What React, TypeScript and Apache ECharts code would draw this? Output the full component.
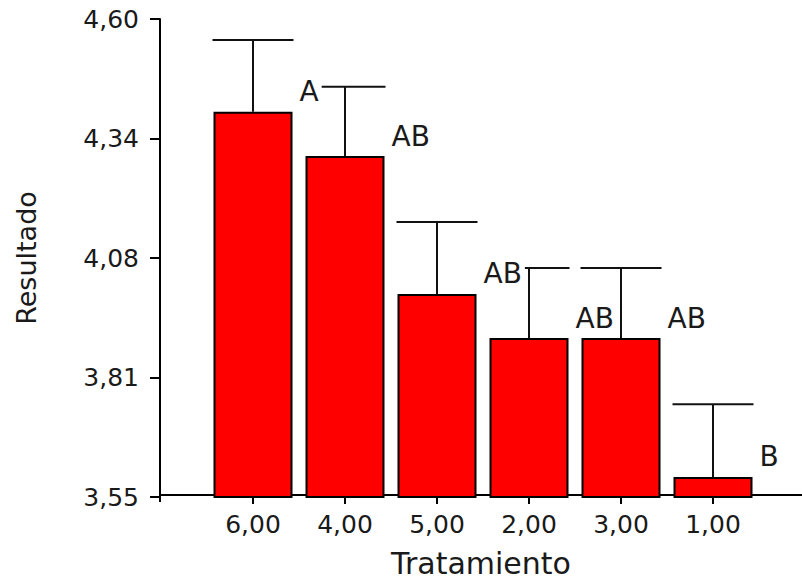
import React, { useEffect, useRef } from "react";
import * as echarts from "echarts";

const categories = ["6,00", "4,00", "5,00", "2,00", "3,00", "1,00"];
const means = [4.396, 4.299, 3.996, 3.899, 3.899, 3.594];
const errTops = [4.554, 4.451, 4.154, 4.053, 4.053, 3.754];
const groupLetters = ["A", "AB", "AB", "AB", "AB", "B"];
const yTickValues = [3.55, 3.8125, 4.075, 4.3375, 4.6];
const yTickLabels = ["3,55", "3,81", "4,08", "4,34", "4,60"];
const yMin = 3.55;
const yMax = 4.6;

const FONT = "DejaVu Sans";
const TEXT = "#1a1a1a";
const BAR_W = 79;

export default function App() {
  const ref = useRef<HTMLDivElement>(null);
  useEffect(() => {
    if (!ref.current) return;
    const chart = echarts.init(ref.current, null, { renderer: "svg" });
    const errData = categories.map((_, i) => [i, errTops[i], means[i]]);
    chart.setOption({
      animation: false,
      backgroundColor: "#ffffff",
      grid: [
        { left: 207, right: 43, top: 19, bottom: 86 },
        { left: 160, right: 0, top: 19, bottom: 86 },
      ],
      xAxis: [
        {
          type: "category",
          gridIndex: 0,
          data: categories,
          axisLine: { show: false },
          axisTick: {
            show: true,
            alignWithLabel: true,
            length: 7,
            lineStyle: { color: "#000", width: 2 },
          },
          axisLabel: {
            fontFamily: FONT,
            fontSize: 25,
            color: TEXT,
            margin: 15,
          },
          splitLine: { show: false },
        },
        {
          type: "value",
          gridIndex: 1,
          min: 0,
          max: 1,
          axisLine: { show: true, lineStyle: { color: "#000", width: 2 } },
          axisTick: {
            show: true,
            customValues: [0],
            length: 7,
            lineStyle: { color: "#000", width: 2 },
          },
          axisLabel: { show: false },
          splitLine: { show: false },
          name: "Tratamiento",
          nameLocation: "middle",
          nameGap: 53,
          nameTextStyle: { fontFamily: FONT, fontSize: 30, color: TEXT },
        },
      ],
      yAxis: [
        {
          type: "value",
          gridIndex: 0,
          min: yMin,
          max: yMax,
          offset: 47,
          axisLine: { show: true, lineStyle: { color: "#000", width: 2 } },
          axisTick: {
            show: true,
            customValues: yTickValues,
            length: 10,
            lineStyle: { color: "#000", width: 2 },
          },
          axisLabel: {
            customValues: yTickValues,
            fontFamily: FONT,
            fontSize: 25,
            color: TEXT,
            margin: 21,
            formatter: (v: number) => {
              const i = yTickValues.findIndex((t) => Math.abs(t - v) < 1e-6);
              return i >= 0 ? yTickLabels[i] : "";
            },
          },
          splitLine: { show: false },
          name: "Resultado",
          nameLocation: "middle",
          nameRotate: 90,
          nameGap: 120,
          nameTextStyle: { fontFamily: FONT, fontSize: 27, color: TEXT },
        },
        {
          type: "value",
          gridIndex: 1,
          min: 0,
          max: 1,
          show: false,
        },
      ],
      series: [
        {
          type: "custom",
          xAxisIndex: 0,
          yAxisIndex: 0,
          z: 2,
          data: errData,
          renderItem: (params: any, api: any) => {
            const idx = api.value(0);
            const top = api.coord([idx, api.value(1)]);
            const base = api.coord([idx, api.value(2)]);
            const half = BAR_W / 2 + 1;
            return {
              type: "group",
              children: [
                {
                  type: "line",
                  shape: { x1: top[0], y1: top[1], x2: base[0], y2: base[1] },
                  style: { stroke: "#111", lineWidth: 2 },
                },
                {
                  type: "line",
                  shape: { x1: top[0] - half, y1: top[1], x2: top[0] + half, y2: top[1] },
                  style: { stroke: "#111", lineWidth: 2 },
                },
              ],
            };
          },
        },
        {
          type: "bar",
          xAxisIndex: 0,
          yAxisIndex: 0,
          z: 3,
          data: means,
          barWidth: BAR_W,
          itemStyle: { color: "#ff0000", borderColor: "#000", borderWidth: 2 },
          label: {
            show: true,
            position: [BAR_W + 4, -20],
            align: "left",
            verticalAlign: "middle",
            fontFamily: FONT,
            fontSize: 28,
            color: TEXT,
            backgroundColor: "#ffffff",
            padding: [0, 3, 0, 3],
            formatter: (p: any) => groupLetters[p.dataIndex],
          },
        },
      ],
    });
    return () => chart.dispose();
  }, []);
  return (
    <div
      ref={ref}
      style={{ position: "fixed", left: 0, top: 0, width: 802, height: 583, background: "#fff" }}
    />
  );
}
